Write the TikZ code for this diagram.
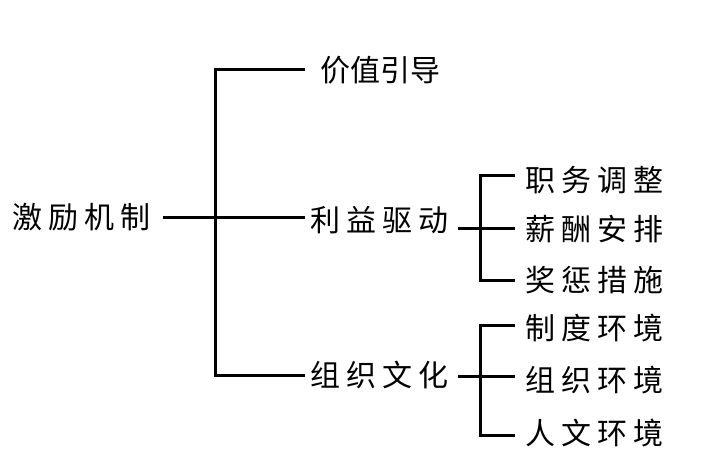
\documentclass[tikz,border=0pt]{standalone}
\usepackage{fontspec}
\setmainfont{Noto Sans CJK SC}
\begin{document}
\begin{tikzpicture}[x=1pt,y=-1pt,
  lbl/.style={font=\fontsize{30}{32}\selectfont\addfontfeature{LetterSpace=20},inner sep=0pt,anchor=west},
  ln/.style={line width=3pt}]
\useasboundingbox (0,0) rectangle (714,465);
\node[lbl] (root) at (12,217) {激励机制};
\node[lbl,font=\fontsize{30}{32}\selectfont] (a) at (320,70) {价值引导};
\node[lbl] (b) at (310,220) {利益驱动};
\node[lbl] (c) at (310,375) {组织文化};
\node[lbl] (b1) at (525,180) {职务调整};
\node[lbl] (b2) at (525,229) {薪酬安排};
\node[lbl] (b3) at (525,280) {奖惩措施};
\node[lbl] (c1) at (525,328) {制度环境};
\node[lbl] (c2) at (525,380) {组织环境};
\node[lbl] (c3) at (525,433) {人文环境};
\coordinate (j) at (215,217);
\draw[ln] (163,217) -- (j);
\draw[ln] (305,70) -- (215,70) -- (215,375) -- (305,375);
\draw[ln] (j) -- (305,217);
\draw[ln] (515,176) -- (480,176) -- (480,280) -- (515,280);
\draw[ln] (458,228) -- (515,228);
\draw[ln] (515,325) -- (480,325) -- (480,435) -- (515,435);
\draw[ln] (458,376) -- (515,376);
\end{tikzpicture}
\end{document}
